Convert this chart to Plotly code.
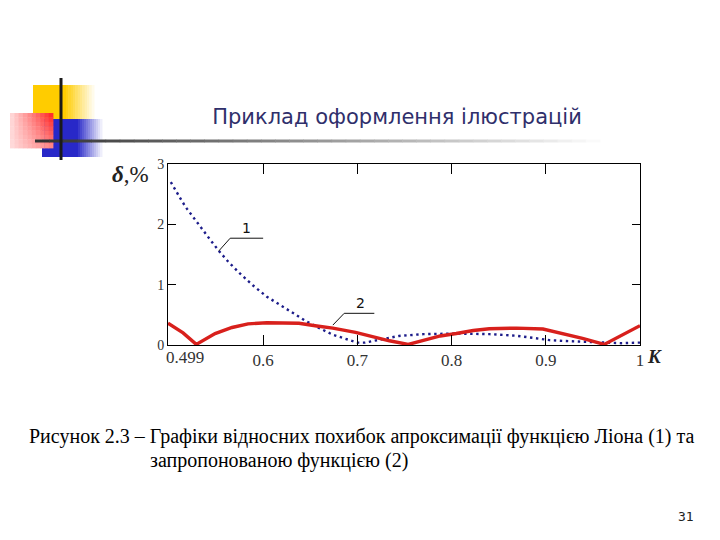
import plotly.graph_objects as go

# ---- data ----
k_lyon = [0.502, 0.509, 0.514, 0.519, 0.525, 0.532, 0.537, 0.544, 0.553, 0.563,
          0.575, 0.589, 0.604, 0.618, 0.626, 0.635, 0.644, 0.657, 0.674, 0.690,
          0.700, 0.708, 0.718, 0.729, 0.744, 0.770, 0.805, 0.840, 0.868, 0.886,
          0.904, 0.921, 0.939, 0.961, 0.980, 1.000]
d_lyon = [2.70, 2.50, 2.38, 2.26, 2.13, 1.99, 1.89, 1.74, 1.56, 1.38,
          1.19, 0.99, 0.80, 0.66, 0.58, 0.50, 0.41, 0.30, 0.17, 0.09,
          0.04, 0.04, 0.07, 0.11, 0.15, 0.18, 0.19, 0.18, 0.155, 0.12,
          0.08, 0.066, 0.055, 0.03, 0.03, 0.04]

k_new = [0.499, 0.515, 0.529, 0.549, 0.567, 0.584, 0.604, 0.621, 0.638, 0.657,
         0.674, 0.698, 0.716, 0.734, 0.754, 0.770, 0.788, 0.805, 0.823, 0.840,
         0.869, 0.897, 0.918, 0.939, 0.962, 0.981, 1.000]
d_new = [0.36, 0.20, 0.01, 0.19, 0.29, 0.35, 0.37, 0.37, 0.36, 0.315,
         0.28, 0.21, 0.14, 0.07, 0.01, 0.08, 0.15, 0.19, 0.24, 0.27,
         0.28, 0.265, 0.19, 0.11, 0.01, 0.17, 0.32]

x_ticks = [0.499, 0.6, 0.7, 0.8, 0.9, 1.0]
x_ticktext = ["", "0.6", "0.7", "0.8", "0.9", "1"]
y_ticks = [0, 1, 2, 3]
y_ticktext = ["0", "1", "2", "3"]

title_text = "Приклад оформлення ілюстрацій"
caption_1 = "Рисунок 2.3 – Графіки відносних похибок апроксимації функцією Ліона (1) та"
caption_2 = "запропонованою функцією (2)"
page_no = "31"

# ---- layout geometry (screen pixels; page body has an 8px margin) ----
OFF = 8
W, H = 720 - OFF, 540 - OFF
L, R, T, B = 168, 640, 164, 345   # plot box in screen pixels


def px(x):
    return (x - L) / (R - L)


def py(y):
    return (B - y) / (B - T)


fig = go.Figure()
fig.add_trace(go.Scatter(x=k_lyon, y=d_lyon, mode="lines",
                         line=dict(color="#1c1c8a", width=2.4, dash="2.4px,3.6px"),
                         hoverinfo="skip", showlegend=False))
fig.add_trace(go.Scatter(x=k_new, y=d_new, mode="lines",
                         line=dict(color="#d8201c", width=3.4),
                         hoverinfo="skip", showlegend=False))

shapes = []


def mix(c, t):
    return "rgb(%d,%d,%d)" % tuple(round(255 + (v - 255) * t) for v in c)


def rect(x0, y0, x1, y1, color):
    shapes.append(dict(type="rect", xref="paper", yref="paper",
                       x0=px(x0), x1=px(x1), y0=py(y1), y1=py(y0),
                       fillcolor=color, line=dict(width=0), layer="above"))


# yellow block
yel = (255, 204, 0)
rect(33, 85, 66, 119, mix(yel, 1))
n = 12
for i in range(n):
    a = 66 + i * 28 / n
    rect(a, 85, a + 28 / n + 0.5, 119, mix(yel, 1 - (i + 1) / (n + 1)))
# blue block
blu = (40, 40, 200)
rect(42, 119, 78, 157, mix(blu, 1))
for i in range(n):
    a = 78 + i * 24 / n
    rect(a, 119, a + 24 / n + 0.5, 157, mix(blu, 1 - (i + 1) / (n + 1)))
# red block (2D gradient)
red = (255, 30, 30)
nx, ny = 10, 8
for i in range(nx):
    for j in range(ny):
        fx = (i + 0.5) / nx
        fy = (j + 0.5) / ny
        t = 0.15 + 0.85 * fx * (1 - 0.55 * fy)
        x0 = 10 + i * 43 / nx
        y0 = 113 + j * 35 / ny
        rect(x0, y0, x0 + 43 / nx + 0.4, y0 + 35 / ny + 0.4, mix(red, t))
# horizontal fading rule
m = 40
for i in range(m):
    a = 35 + i * (600 - 35) / m
    b = a + (600 - 35) / m + 0.5
    g = round(50 + 205 * i / m)
    shapes.append(dict(type="line", xref="paper", yref="paper",
                       x0=px(a), x1=px(b), y0=py(141), y1=py(141),
                       line=dict(color="rgb(%d,%d,%d)" % (g, g, g), width=3), layer="above"))
# vertical black line
shapes.append(dict(type="line", xref="paper", yref="paper",
                   x0=px(61), x1=px(61), y0=py(78), y1=py(160),
                   line=dict(color="#1a1a1a", width=3), layer="above"))

# leader lines for curve labels
lead = dict(color="#111111", width=1)
shapes += [
    dict(type="line", xref="x", yref="y", x0=0.553, y0=1.56, x1=0.565, y1=1.77, line=lead),
    dict(type="line", xref="x", yref="y", x0=0.565, y0=1.77, x1=0.600, y1=1.77, line=lead),
    dict(type="line", xref="x", yref="y", x0=0.674, y0=0.33, x1=0.686, y1=0.525, line=lead),
    dict(type="line", xref="x", yref="y", x0=0.686, y0=0.525, x1=0.718, y1=0.525, line=lead),
]

serif = "Liberation Serif"


def note(x, y, text, size, family=serif, color="#222", xanchor="left"):
    return dict(x=px(x), y=py(y), xref="paper", yref="paper", xanchor=xanchor,
                yanchor="middle", text=text, showarrow=False,
                font=dict(family=family, size=size, color=color))


annotations = [
    dict(x=0.582, y=1.78, xref="x", yref="y", text="1", showarrow=False,
         yanchor="bottom", font=dict(family="DejaVu Sans", size=14, color="#111")),
    dict(x=0.703, y=0.535, xref="x", yref="y", text="2", showarrow=False,
         yanchor="bottom", font=dict(family="DejaVu Sans", size=14, color="#111")),
    note(151, 174, "<b><i>δ</i></b>,%", 23, xanchor="right"),
    note(164, 357, "0.499", 17, color="#333"),
    note(645, 356, "<b><i>K</i></b>", 19),
    note(27, 436, caption_1, 20, color="black"),
    note(148, 460, caption_2, 20, color="black"),
    note(686, 516, page_no, 13, family="DejaVu Sans Mono", xanchor="center"),
]

fig.update_layout(
    width=W, height=H,
    margin=dict(l=L - OFF, r=W - (R - OFF), t=T - OFF, b=H - (B - OFF)),
    paper_bgcolor="white", plot_bgcolor="white",
    title=dict(text=title_text, x=(397 - OFF) / W, y=1 - (117 - OFF) / H,
               xref="container", yref="container",
               xanchor="center", yanchor="middle",
               font=dict(family="DejaVu Sans", size=21, color="#2f2f6b")),
    shapes=shapes, annotations=annotations,
    xaxis=dict(range=[0.499, 1.0], tickvals=x_ticks, ticktext=x_ticktext,
               ticks="inside", ticklen=10, tickcolor="black", tickwidth=1,
               showline=True, linecolor="black", linewidth=1, mirror="ticks",
               showgrid=False, zeroline=False,
               tickfont=dict(family=serif, size=17, color="#333")),
    yaxis=dict(range=[0, 3], tickvals=y_ticks, ticktext=y_ticktext,
               ticks="inside", ticklen=8, tickcolor="black", tickwidth=1,
               showline=True, linecolor="black", linewidth=1, mirror="ticks",
               showgrid=False, zeroline=False,
               tickfont=dict(family=serif, size=14, color="#333")),
)

fig.write_html("out.html")
